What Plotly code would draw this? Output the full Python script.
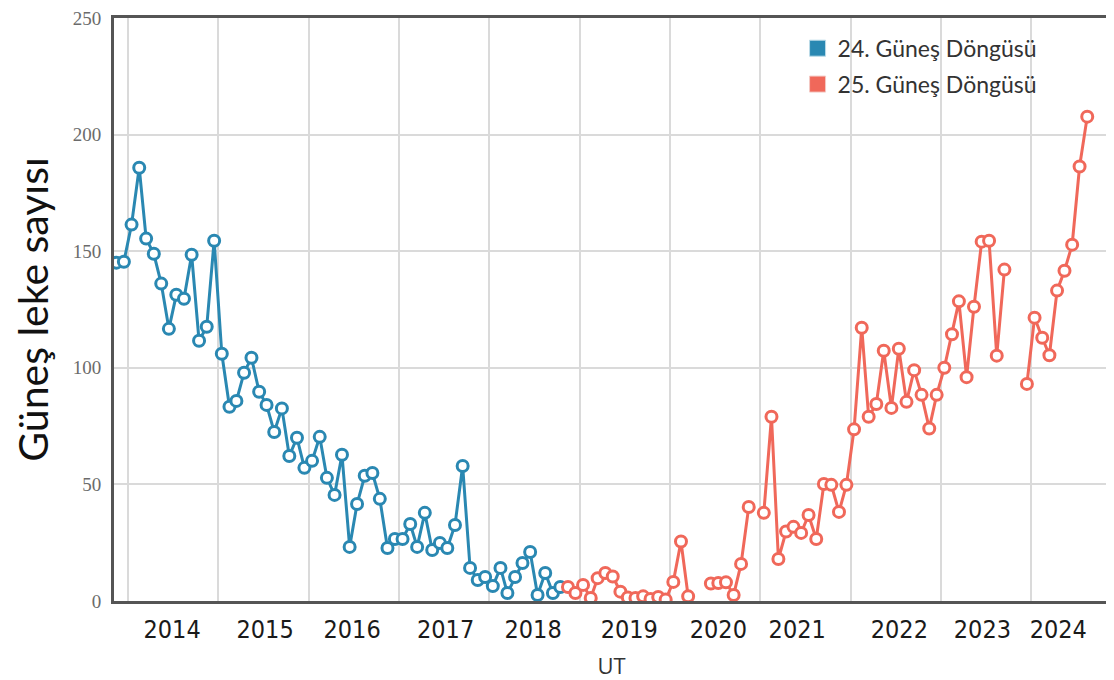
import pandas as pd
import plotly.graph_objects as go

# ---- data (monthly values, mid-month) ----
cycle24_start = "2013-11-01"
cycle24_values = [
    145.1, 145.5, 161.4, 185.8, 155.4, 148.9, 136.1, 116.7, 131.3, 129.6,
    148.5, 111.6, 117.6, 154.5, 106.0, 83.3, 85.8, 97.9, 104.3, 89.7,
    84.1, 72.5, 82.6, 62.2, 70.0, 57.1, 60.1, 70.4, 52.8, 45.5,
    62.7, 23.2, 41.6, 53.7, 54.9, 43.8, 22.7, 26.6, 26.6, 33.0,
    23.2, 37.8, 21.9, 24.9, 22.7, 32.6, 57.9, 14.2, 9.0, 10.3,
    6.4, 14.2, 3.4, 10.3, 16.3, 21.0, 2.6, 12.0, 3.4, 6.0,
]
cycle25_start = "2018-11-01"
cycle25_values = [
    6.0, 3.4, 6.9, 1.3, 9.8, 12.0, 10.5, 4.0, 1.5, 1.3,
    2.0, 0.9, 1.7, 0.6, 8.2, 25.5, 2.0, None, None, 7.5,
    7.7, 8.0, 2.6, 15.9, 40.3, None, 37.8, 79.0, 18.0, 29.8,
    31.8, 29.2, 36.9, 26.6, 50.2, 49.8, 38.2, 49.8, 73.6, 117.2,
    79.0, 84.5, 107.3, 82.8, 108.2, 85.4, 99.0, 88.4, 74.0, 88.4,
    100.0, 114.4, 128.5, 96.0, 126.2, 154.1, 154.5, 105.2, 142.1, None,
    None, 93.1, 121.5, 112.9, 105.4, 133.1, 141.6, 152.8, 186.3, 207.7,
]
series_names = ["24. Güneş Döngüsü", "25. Güneş Döngüsü"]
year_labels = ["2014", "2015", "2016", "2017", "2018", "2019",
               "2020", "2021", "2022", "2023", "2024"]
year_label_dates = ["2014-06-28", "2015-07-09", "2016-06-25", "2017-07-08",
                    "2018-06-27", "2019-07-21", "2020-07-15", "2021-05-30",
                    "2022-07-17", "2023-06-18", "2024-04-20"]

def monthly(start, n):
    return pd.date_range(start, periods=n, freq="MS") + pd.Timedelta(days=14)

x24 = monthly(cycle24_start, len(cycle24_values))
x25 = monthly(cycle25_start, len(cycle25_values))

BLUE = "#2a88b2"
RED = "#f0685a"

fig = go.Figure()
for xs, ys, col in [(x24, cycle24_values, BLUE), (x25, cycle25_values, RED)]:
    fig.add_trace(go.Scatter(
        x=xs, y=ys, mode="lines+markers", showlegend=False,
        line=dict(color=col, width=3),
        marker=dict(symbol="circle", size=11, color="white",
                    line=dict(color=col, width=3)),
        connectgaps=False,
    ))
for i, (name, col) in enumerate(zip(series_names, [BLUE, RED])):
    fig.add_trace(go.Scatter(
        x=[None], y=[None], mode="markers", name=name, legendgroup=f"g{i}",
        marker=dict(symbol="square", size=16, color=col,
                    line=dict(color="#f3c9c4" if i else "#bcdbe8", width=1)),
    ))

fig.update_layout(
    width=1106, height=672,
    margin=dict(l=106, r=5, t=10, b=79, autoexpand=False),
    paper_bgcolor="white", plot_bgcolor="white",
    showlegend=True,
    legend=dict(x=0.687, y=0.985, xanchor="left", yanchor="top",
                bgcolor="rgba(0,0,0,0)", traceorder="grouped",
                tracegroupgap=3,
                font=dict(family="Lato, Open Sans, sans-serif", size=23, color="#333333")),
    xaxis=dict(
        type="date", automargin=False,
        range=["2013-11-05", "2024-11-11"],
        tickmode="array", tickvals=year_label_dates, ticktext=year_labels,
        showgrid=False, ticks="", zeroline=False, ticklabelstandoff=4,
        tickfont=dict(family="Liberation Sans Narrow, DejaVu Sans Condensed, sans-serif",
                      size=25, color="#1a1a1a"),
        minor=dict(tick0="2014-01-01", dtick="M12", showgrid=True,
                   gridcolor="#dadada", gridwidth=1.5, ticks=""),
        showline=True, linecolor="#555555", linewidth=3, mirror=True,
        title=dict(text="UT", standoff=16,
                   font=dict(family="Open Sans, sans-serif", size=22, color="#333333")),
    ),
    yaxis=dict(
        range=[0, 250], tickmode="linear", tick0=0, dtick=50, automargin=False,
        ticklabeloverflow="allow",
        showgrid=True, gridcolor="#dadada", gridwidth=1.5, zeroline=False,
        ticks="outside", ticklen=6, tickcolor="rgba(0,0,0,0)",
        tickfont=dict(family="Liberation Serif, serif", size=19, color="#6b6b6b"),
        showline=True, linecolor="#555555", linewidth=3, mirror=True,
        title=dict(text="Güneş leke sayısı", standoff=20,
                   font=dict(family="Lato, Open Sans, sans-serif", size=41, color="#111111")),
    ),
)

fig.write_html("out.html")
